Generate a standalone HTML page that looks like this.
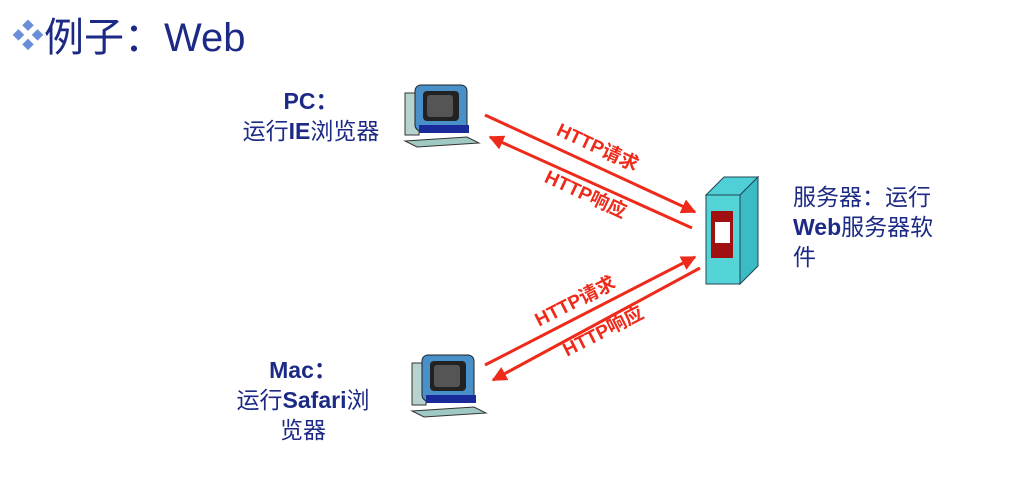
<!DOCTYPE html>
<html><head><meta charset="utf-8"><style>
body{margin:0;width:1034px;height:484px;background:#fff;overflow:hidden;position:relative;font-family:"Liberation Sans","Noto Sans CJK SC",sans-serif}
.t{position:absolute;color:#1c2a85;font-size:23px;line-height:30px;text-align:center;white-space:nowrap}
b{font-weight:bold}
</style></head><body>
<div style="position:absolute;left:12px;top:12px;font-size:40px;color:#1c2a85;line-height:48px;white-space:nowrap"><span style="color:#6a8fd8;font-size:32px;vertical-align:4px">❖</span>例子：Web</div>
<div class="t" style="left:226px;top:86px;width:170px"><b>PC：</b><br>运行<b>IE</b>浏览器</div>
<div class="t" style="left:218px;top:355px;width:170px"><b>Mac：</b><br>运行<b>Safari</b>浏<br>览器</div>
<div class="t" style="left:793px;top:182px;width:170px;text-align:left">服务器：运行<br><b>Web</b>服务器软<br>件</div>
<svg width="1034" height="484" style="position:absolute;left:0;top:0">
<defs>
<marker id="a" viewBox="0 0 10 10" refX="9" refY="5" markerWidth="5" markerHeight="5" orient="auto"><path d="M0,0L10,5L0,10z" fill="#ee2a1a"/></marker>
<g id="pc">
<rect x="0" y="8" width="14" height="42" fill="#b7d3cf" stroke="#333"/>
<rect x="10" y="0" width="52" height="46" rx="6" fill="#4a90c8" stroke="#222"/>
<rect x="18" y="6" width="36" height="30" rx="4" fill="#222"/>
<rect x="22" y="10" width="26" height="22" rx="3" fill="#555"/>
<rect x="14" y="40" width="50" height="8" fill="#1b2a9a"/>
<path d="M0,56L62,52L74,58L12,62z" fill="#9fc9c2" stroke="#333"/>
</g>
</defs>
<g stroke="#ee2a1a" stroke-width="3" fill="none" marker-end="url(#a)">
<line x1="485" y1="115" x2="695" y2="212"/>
<line x1="692" y1="228" x2="490" y2="137"/>
<line x1="485" y1="365" x2="695" y2="257"/>
<line x1="700" y1="268" x2="493" y2="380"/>
</g>
<use href="#pc" x="405" y="85"/>
<use href="#pc" x="412" y="355"/>
<path d="M706,195L724,177L758,177L740,195z" fill="#4fd0d6" stroke="#245"/>
<path d="M740,195L758,177L758,266L740,284z" fill="#3bbcc4" stroke="#245"/>
<rect x="706" y="195" width="34" height="89" fill="#55d4d8" stroke="#245"/>
<rect x="711" y="211" width="22" height="47" fill="#a01010"/>
<rect x="715" y="222" width="15" height="21" fill="#fff"/>
<g fill="#ee2a1a" font-weight="bold" font-size="19" font-family="Liberation Sans,Noto Sans CJK SC,sans-serif" text-anchor="middle">
<text transform="translate(595,153) rotate(25)">HTTP请求</text>
<text transform="translate(583,200) rotate(25)">HTTP响应</text>
<text transform="translate(578,307) rotate(-27)">HTTP请求</text>
<text transform="translate(606,337) rotate(-27)">HTTP响应</text>
</g>
</svg>
</body></html>
